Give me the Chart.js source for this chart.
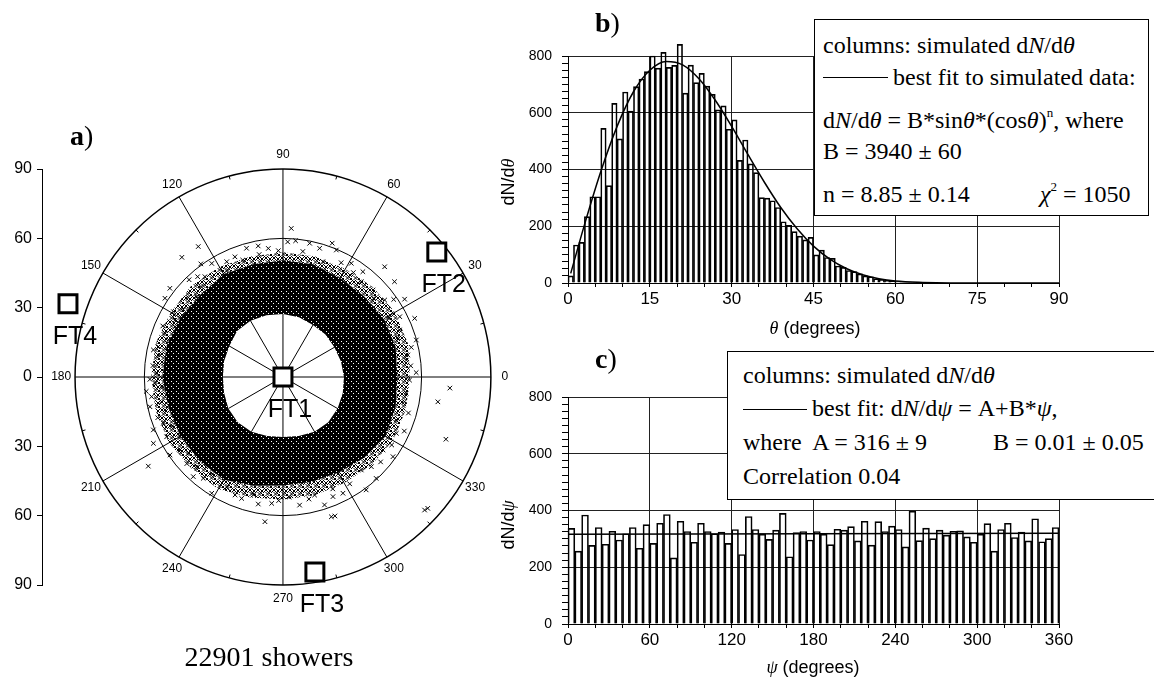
<!DOCTYPE html>
<html>
<head>
<meta charset="utf-8">
<script src="https://cdn.jsdelivr.net/npm/chart.js"></script>
<style>
  body { margin:0; background:#fff; width:1154px; height:682px; position:relative; overflow:hidden; font-family:"Liberation Sans", Arial, sans-serif; color:#000; }
  canvas { position:absolute; }
  .t { position:absolute; white-space:nowrap; line-height:1; }
  .serif { font-family:"Liberation Serif", "Times New Roman", serif; }
  .leg { font-size:24px; }
  .box { position:absolute; background:#fff; border:1px solid #000; box-sizing:border-box; }
  .rule { position:absolute; height:0; border-top:1.5px solid #000; }
  .sup { font-size:13px; position:relative; top:-11px; }
  .panel { font-size:28px; }
  .ax { font-size:18px; }
</style>
</head>
<body>
<canvas id="polar" width="530" height="682" style="left:0;top:0"></canvas>
<canvas id="zenith" width="590" height="340" style="left:510px;top:0"></canvas>
<canvas id="azimuth" width="590" height="342" style="left:510px;top:340px"></canvas>

<!-- legend box b -->
<div class="box" style="left:814px;top:19px;width:335px;height:197px"></div>
<div class="t serif leg" style="left:823px;top:33px">columns: simulated d<i>N</i>/d<i>θ</i></div>
<div class="rule" style="left:823px;top:77px;width:65px"></div>
<div class="t serif leg" style="left:893px;top:65px">best fit to simulated data:</div>
<div class="t serif leg" style="left:823px;top:108px">d<i>N</i>/d<i>θ</i> = B*sin<i>θ</i>*(cos<i>θ</i>)<span class="sup">n</span>, where</div>
<div class="t serif leg" style="left:823px;top:139px">B = 3940 ± 60</div>
<div class="t serif leg" style="left:823px;top:182px">n = 8.85 ± 0.14</div>
<div class="t serif leg" style="left:1040px;top:182px"><i>χ</i><span class="sup">2</span> = 1050</div>

<!-- legend box c -->
<div class="box" style="left:727px;top:351px;width:440px;height:149px"></div>
<div class="t serif leg" style="left:743px;top:363px">columns: simulated d<i>N</i>/d<i>θ</i></div>
<div class="rule" style="left:743px;top:409px;width:64px"></div>
<div class="t serif leg" style="left:812px;top:396px">best fit: d<i>N</i>/d<i>ψ</i> = A+B*<i>ψ</i>,</div>
<div class="t serif leg" style="left:743px;top:430px">where&nbsp; A = 316 ± 9</div>
<div class="t serif leg" style="left:993px;top:430px">B = 0.01 ± 0.05</div>
<div class="t serif leg" style="left:743px;top:464px">Correlation 0.04</div>

<!-- panel labels and axis titles -->
<div class="t serif panel" style="left:70px;top:122px"><b>a</b>)</div>
<div class="t serif panel" style="left:595px;top:9px"><b>b</b>)</div>
<div class="t serif panel" style="left:595px;top:345px"><b>c</b>)</div>
<div class="t serif" style="left:269px;top:643px;font-size:28px;transform:translateX(-50%)">22901 showers</div>
<div class="t ax" style="left:815px;top:319px;transform:translateX(-50%)"><i class="serif">θ</i> (degrees)</div>
<div class="t ax" style="left:813px;top:658px;transform:translateX(-50%)"><i class="serif">ψ</i> (degrees)</div>
<div class="t ax" style="left:508px;top:182px;transform:translate(-50%,-50%) rotate(-90deg)">dN/d<span class="serif"><i>θ</i></span></div>
<div class="t ax" style="left:508px;top:525px;transform:translate(-50%,-50%) rotate(-90deg)">dN/d<span class="serif"><i>ψ</i></span></div>

<script>
// ---- panel b: zenith angle histogram (1 degree bins) ----
const zenithBins = [
  25, 134, 143, 234, 304, 304, 545, 343, 633, 508,
  673, 606, 692, 719, 745, 800, 757, 813, 760, 767,
  841, 669, 768, 706, 739, 694, 665, 610, 624, 542,
  575, 432, 504, 420, 389, 301, 299, 290, 266, 216,
  203, 181, 165, 152, 161, 99, 116, 90, 87, 60,
  55, 44, 40, 32, 25, 22, 15, 13, 10, 8,
  5, 4, 3, 2, 1, 1, 0, 0, 0, 0,
  0, 0, 0, 0, 0, 0, 0, 0, 0, 0,
  0, 0, 0, 0, 0, 0, 0, 0, 0, 0
];
const zenithFitTheta = [0.5, 3, 6, 9, 12, 15, 18, 21, 24, 27, 30, 33, 36, 39, 42, 45, 48, 51, 54, 57, 60, 65, 70, 80, 90];
const zenithFitValue = [34, 204, 392, 552, 674, 750, 781, 769, 720, 644, 552, 452, 355, 266, 191, 130, 84, 51, 29, 15, 7, 2, 0.2, 0, 0];
const zenithTicks = [0, 15, 30, 45, 60, 75, 90];

// ---- panel c: azimuth histogram (5 degree bins) ----
const azimuthBins = [
  337, 257, 384, 277, 340, 281, 327, 296, 318, 340,
  267, 350, 284, 355, 386, 233, 362, 326, 288, 355,
  326, 318, 324, 284, 333, 245, 379, 333, 317, 298,
  331, 390, 237, 322, 326, 296, 326, 317, 280, 334,
  331, 343, 293, 362, 278, 361, 326, 345, 333, 272,
  398, 294, 338, 301, 331, 313, 327, 328, 307, 288,
  317, 354, 257, 333, 355, 305, 324, 293, 371, 290,
  301, 340
];
const azimuthFitPsi = [0, 360];
const azimuthFitValue = [316, 319.6];
const psiTicks = [0, 60, 120, 180, 240, 300, 360];
const countTicks = [0, 200, 400, 600, 800];

// ---- panel a: polar map (azimuth in degrees, zenith as radius) ----
const ringAz    = [0, 15, 30, 45, 60, 75, 90, 105, 120, 135, 150, 165, 180, 195, 210, 225, 240, 255, 270, 285, 300, 315, 330, 345];
const ringInner = [26.4, 26, 25.7, 26, 26, 26.8, 27.3, 27.7, 28.1, 28.1, 26.8, 26.4, 26, 26.4, 27.3, 27.7, 27.3, 26.4, 26, 26.4, 27.3, 27.7, 27.3, 26.8];
const ringCore  = [49.5, 50.5, 50.5, 49.5, 49.5, 50.5, 50.5, 50.5, 51.3, 50.5, 51.3, 52.2, 52.2, 51.3, 51.3, 51.3, 51.3, 48.7, 47, 47, 47.9, 49.6, 51.3, 50.5];
const ringHalo  = [55, 56, 56, 55, 54, 54, 54, 54, 55, 56, 56, 57, 57, 57, 57, 56, 56, 54, 53, 53, 53, 54, 55, 55];
const fringeAz = [
  123, 130.2, 141.9, 146.3, 130.4, 127.9, 132.2, 145.8, 149.2, 152.2,
  159.7, 168.2, 166.3, 173.5, 178.3, 181, 182.8, 188.5, 192.6, 191.5,
  195.6, 201.1, 202.2, 207.2, 207.1, 213.5, 214.6, 215.3, 226.1, 231.8,
  238.5, 247.9, 251.2, 262.9, 264.9, 228, 122.1, 111.8, 105.8, 100.7,
  96.5, 92.1, 86.8, 84.7, 78.7, 69.8, 74.1, 67.2, 70.9, 59,
  47.3, 52.8, 50.6, 44, 40.5, 37.1, 32.6, 27.3, 24, 21.9,
  15.5, 10, 7.8, 1.9, 358.6, 350.9, 352.5, 348.5, 339.2, 333.6,
  324.1, 323.9, 312.6, 306.4, 314.6, 310.1, 297.3, 292.7, 288, 289.1,
  277.4, 285, 316.8, 317.8, 356.2, 339.1, 290.5,
  137, 140, 143, 155, 157, 162, 170, 175, 185, 186,
  198, 204, 210, 219, 222, 234, 243, 256, 259, 268,
  273, 282, 294, 302, 319, 328, 336, 344, 5, 13,
  19, 29, 35, 41, 56, 63, 81, 88, 101, 109,
  116, 118, 126, 134
];
const fringeZen = [
  67.3, 67.8, 62.2, 61.4, 57, 55, 52.8, 52.1, 55.2, 52.8,
  54.4, 57.3, 55.5, 52.1, 54.7, 57.6, 55.5, 57.5, 59, 53.6,
  53, 55.5, 60.6, 56.6, 63, 69.9, 59.4, 54.6, 53.9, 55.8,
  59, 55.1, 55.5, 63.1, 54.9, 58, 58, 56, 57.9, 57.7,
  56, 54.7, 64.4, 59.2, 59, 61.7, 57.9, 59.6, 52.8, 57.4,
  64.9, 57.2, 53.4, 54.2, 63.5, 55.2, 62.5, 56.9, 62.4, 54.4,
  59.9, 54.9, 53.9, 57.7, 54.8, 67.9, 53.8, 53.7, 52.4, 54.8,
  58.8, 53.6, 59.6, 60.7, 54.5, 52.6, 56.6, 56.1, 58.2, 64,
  55.9, 52.9, 84.1, 84.6, 72.4, 75.5, 64.2,
  51, 53.5, 50.5, 51.5, 56.5, 52, 54, 56.5, 52.5, 59.5,
  57, 52.5, 51.5, 52.5, 56, 52, 53.5, 52.5, 56, 53.5,
  52, 54, 53, 54.5, 56, 55.5, 57.5, 56.5, 55.5, 57,
  52.5, 52.5, 58.5, 52, 54.5, 55.5, 55, 58.5, 54, 53.5,
  55.5, 52, 60.5, 58.5
];
const ftNames = ['FT1', 'FT2', 'FT3', 'FT4'];
const ftAz  = [0, 39.1, 279.3, 161.2];
const ftZen = [0, 85.8, 85.5, 98.3];
const polarRings  = [60, 90];
const polarSpokes = [0, 30, 60, 90, 120, 150, 180, 210, 240, 270, 300, 330];
const polarMinor  = [15, 45, 75, 105, 135, 165, 195, 225, 255, 285, 315, 345];

Chart.defaults.font.family = '"Liberation Sans", Arial, sans-serif';
Chart.defaults.color = '#000';

const rad = a => a * Math.PI / 180;
const toXY = (az, zen) => ({ x: zen * Math.cos(rad(az)), y: zen * Math.sin(rad(az)) });

function makePattern(ctx, size, draw) {
  const c = document.createElement('canvas');
  c.width = size; c.height = size;
  draw(c.getContext('2d'));
  return ctx.createPattern(c, 'repeat');
}

const polarGrid = {
  id: 'polarGrid',
  beforeDatasetsDraw(chart) {
    const { ctx, scales: { x, y } } = chart;
    const cx = x.getPixelForValue(0), cy = y.getPixelForValue(0);
    const pt = (az, r) => { const p = toXY(az, r); return [x.getPixelForValue(p.x), y.getPixelForValue(p.y)]; };
    const trace = radii => {
      radii.forEach((r, i) => {
        const [px, py] = pt(ringAz[i], r);
        if (i === 0) ctx.moveTo(px, py); else ctx.lineTo(px, py);
      });
      ctx.closePath();
    };
    ctx.save();
    ctx.strokeStyle = '#000';
    ctx.lineWidth = 1;
    polarSpokes.forEach(az => {
      const [px, py] = pt(az, 90);
      ctx.beginPath(); ctx.moveTo(cx, cy); ctx.lineTo(px, py); ctx.stroke();
    });
    polarRings.forEach((r, i) => {
      ctx.lineWidth = i ? 1.5 : 1;
      ctx.beginPath(); ctx.arc(cx, cy, x.getPixelForValue(r) - cx, 0, 2 * Math.PI); ctx.stroke();
    });
    ctx.lineWidth = 1;
    polarMinor.forEach(az => {
      const [a1, b1] = pt(az, 90), [a2, b2] = pt(az, 88.5);
      ctx.beginPath(); ctx.moveTo(a1, b1); ctx.lineTo(a2, b2); ctx.stroke();
    });

    // thinning edge of the shower cloud: packed crosses
    ctx.fillStyle = makePattern(ctx, 8, g => {
      g.strokeStyle = '#000'; g.lineWidth = 1;
      [[2, 2], [6, 3], [3.5, 6], [7, 7]].forEach(([u, v]) => {
        g.beginPath();
        g.moveTo(u - 2, v - 2); g.lineTo(u + 2, v + 2);
        g.moveTo(u + 2, v - 2); g.lineTo(u - 2, v + 2);
        g.stroke();
      });
    });
    ctx.beginPath(); trace(ringHalo); trace(ringCore); ctx.fill('evenodd');

    // dense core
    ctx.fillStyle = makePattern(ctx, 5, g => {
      g.fillStyle = '#000'; g.fillRect(0, 0, 5, 5);
      g.fillStyle = '#fff'; g.fillRect(1, 1, 1, 1); g.fillRect(3, 3, 1, 1);
    });
    ctx.beginPath(); trace(ringCore); trace(ringInner); ctx.fill('evenodd');
    ctx.restore();
  },
  afterDatasetsDraw(chart) {
    const { ctx, scales: { x, y } } = chart;
    const pt = (az, r) => { const p = toXY(az, r); return [x.getPixelForValue(p.x), y.getPixelForValue(p.y)]; };
    ctx.save();
    ctx.fillStyle = '#000';
    ctx.textAlign = 'center';
    ctx.textBaseline = 'middle';
    ctx.font = '12px "Liberation Sans", Arial';
    polarSpokes.forEach(az => {
      const [px, py] = pt(az, 96);
      ctx.fillText(String(az), px, py);
    });
    ctx.font = '25px "Liberation Sans", Arial';
    ftNames.forEach((name, i) => {
      const [px, py] = pt(ftAz[i], ftZen[i]);
      ctx.fillText(name, px + 7, py + 33);
    });
    ctx.restore();
  }
};

new Chart(document.getElementById('polar'), {
  type: 'scatter',
  data: {
    datasets: [
      {
        label: 'Fluorescence telescopes',
        data: ftAz.map((a, i) => toXY(a, ftZen[i])),
        pointStyle: 'rect',
        pointRadius: 12.7,
        borderWidth: 3,
        borderColor: '#000',
        backgroundColor: '#fff',
        clip: false
      },
      {
        label: 'Showers',
        data: fringeAz.map((a, i) => toXY(a, fringeZen[i])),
        pointStyle: 'crossRot',
        pointRadius: 3.2,
        borderWidth: 1,
        borderColor: '#000',
        backgroundColor: 'rgba(0,0,0,0)'
      }
    ]
  },
  options: {
    responsive: false,
    animation: false,
    events: [],
    layout: { padding: { left: 0, right: 16, top: 169, bottom: 97 } },
    plugins: { legend: { display: false }, tooltip: { enabled: false } },
    scales: {
      x: { type: 'linear', display: false, min: -104.3, max: 100 },
      y: {
        type: 'linear', min: -90, max: 90,
        afterFit: s => { s.width = 42; },
        ticks: { stepSize: 30, callback: v => Math.abs(v), font: { size: 16 }, padding: 5 },
        grid: { drawOnChartArea: false, drawTicks: true, tickLength: 5, tickColor: '#000' },
        border: { display: true, color: '#000', width: 1 }
      }
    }
  },
  plugins: [polarGrid]
});

function histogramChart(canvasId, bins, binWidth, fitX, fitY, xMax, xStep, xTicks, padTop, padBottom) {
  return new Chart(document.getElementById(canvasId), {
    type: 'bar',
    data: {
      datasets: [
        {
          type: 'line',
          label: 'best fit',
          data: fitX.map((v, i) => ({ x: v, y: fitY[i] })),
          borderColor: '#000',
          borderWidth: 1.5,
          pointRadius: 0,
          fill: false,
          cubicInterpolationMode: 'monotone'
        },
        {
          label: 'simulated',
          data: bins.map((v, i) => ({ x: (i + 0.5) * binWidth, y: v })),
          backgroundColor: 'rgba(0,0,0,0)',
          borderColor: '#000',
          borderWidth: 1,
          barPercentage: 1,
          categoryPercentage: 1,
          clip: false
        }
      ]
    },
    options: {
      responsive: false,
      animation: false,
      events: [],
      layout: { padding: { left: 10, right: 41, top: padTop, bottom: padBottom } },
      plugins: { legend: { display: false }, tooltip: { enabled: false } },
      scales: {
        x: {
          type: 'linear', min: 0, max: xMax, offset: false,
          afterFit: s => { s.height = 30; },
          ticks: {
            stepSize: xStep, maxTicksLimit: 200, autoSkip: false, maxRotation: 0, padding: 2,
            font: { size: 17 },
            callback: v => xTicks.includes(v) ? v : ''
          },
          grid: {
            offset: false, tickLength: 4, tickColor: '#000',
            color: c => (c.tick && xTicks.includes(c.tick.value)) ? '#222' : 'rgba(0,0,0,0)'
          },
          border: { color: '#000', width: 1 }
        },
        y: {
          type: 'linear', min: 0, max: 800,
          afterFit: s => { s.width = 48; },
          ticks: {
            stepSize: 25, maxTicksLimit: 200, autoSkip: false, padding: 10,
            font: { size: 14 },
            callback: v => countTicks.includes(v) ? v : ''
          },
          grid: {
            tickLength: 6, tickColor: '#000',
            color: c => (c.tick && countTicks.includes(c.tick.value)) ? '#222' : 'rgba(0,0,0,0)'
          },
          border: { color: '#000', width: 1 }
        }
      }
    }
  });
}

histogramChart('zenith', zenithBins, 1, zenithFitTheta, zenithFitValue, 90, 5, zenithTicks, 56, 27);
histogramChart('azimuth', azimuthBins, 5, azimuthFitPsi, azimuthFitValue, 360, 20, psiTicks, 57, 28);
</script>
</body>
</html>
